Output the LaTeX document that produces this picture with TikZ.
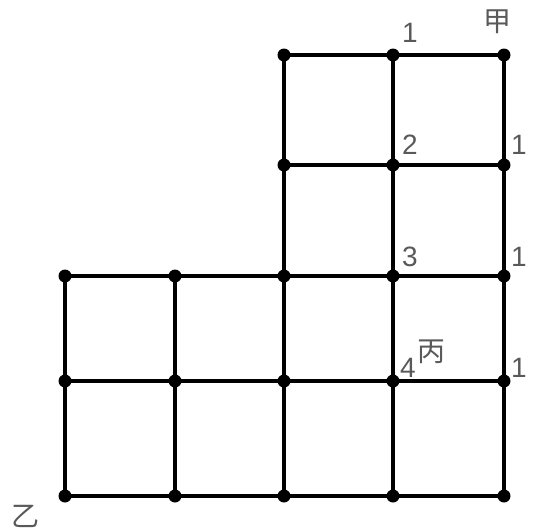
\documentclass[tikz,border=0pt]{standalone}
\usepackage{fontspec}
\setmainfont{Liberation Sans}
\newfontfamily\cjk{Noto Sans CJK SC}
\usetikzlibrary{positioning}

\begin{document}
\begin{tikzpicture}[
    x=0.5pt, y=-0.5pt,
    % Define styles
    dot/.style={circle, fill=black, inner sep=0pt, minimum size=6.5pt},
    edge/.style={line width=2.2pt, black},
    lbl/.style={text=black!65, inner sep=0pt, font=\fontsize{14}{16}\selectfont},
    hz/.style={lbl, font=\fontsize{14}{16}\selectfont\cjk}
]
    \useasboundingbox (0,0) rectangle (537,531);

    % --- NODES ---
    % upper part (rows 0,1 ; columns 2..4)
    \foreach \r/\y in {0/55, 1/165}
      \foreach \c/\x in {2/284, 3/393, 4/504}
        \coordinate (p\r\c) at (\x,\y);
    % lower part (rows 2..4 ; columns 0..4)
    \foreach \r/\y in {2/276, 3/381, 4/496}
      \foreach \c/\x in {0/65, 1/175, 2/284, 3/393, 4/504}
        \coordinate (p\r\c) at (\x,\y);

    % --- EDGES ---
    % horizontal lines
    \draw[edge] (p02) -- (p03) -- (p04);
    \draw[edge] (p12) -- (p13) -- (p14);
    \foreach \r in {2,3,4}
      \draw[edge] (p\r0) -- (p\r1) -- (p\r2) -- (p\r3) -- (p\r4);
    % vertical lines
    \foreach \c in {2,3,4}
      \draw[edge] (p0\c) -- (p1\c) -- (p2\c) -- (p3\c) -- (p4\c);
    \foreach \c in {0,1}
      \draw[edge] (p2\c) -- (p3\c) -- (p4\c);

    % dots on crossings
    \foreach \p in {02,03,04,12,13,14,20,21,22,23,24,30,31,32,33,34,40,41,42,43,44}
      \node[dot] (d\p) at (p\p) {};

    % --- LABELS ---
    \node[lbl] (n1) at (410,33) {1};
    \node[hz]  (jia) at (497,22) {甲};
    \node[lbl] (n2) at (410,145) {2};
    \node[lbl] (r1) at (519,145) {1};
    \node[lbl] (n3) at (410,257) {3};
    \node[lbl] (r2) at (519,257) {1};
    \node[lbl] (n4) at (408,368) {4};
    \node[hz]  (bing) at (431,352) {丙};
    \node[lbl] (r3) at (519,368) {1};
    \node[hz]  (yi) at (25,516) {乙};

\end{tikzpicture}
\end{document}
